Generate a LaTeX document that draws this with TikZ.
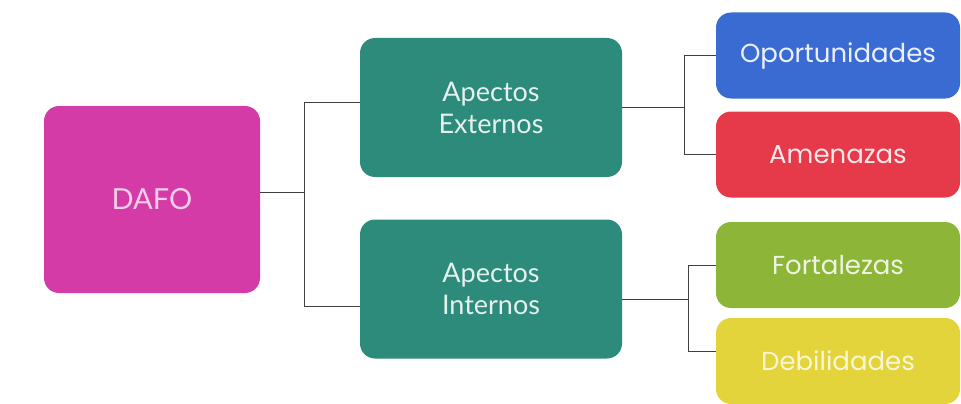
\documentclass[tikz,border=0pt]{standalone}
\usepackage{fontspec}
\setmainfont{Lato}
\newfontfamily\roundfont{Poppins}
\usepackage{tikz}
\usetikzlibrary{positioning}

\definecolor{dafopink}{HTML}{D43BA6}
\definecolor{aspteal}{HTML}{2C8B7B}
\definecolor{opblue}{HTML}{3A6BD3}
\definecolor{amred}{HTML}{E63A4B}
\definecolor{fogreen}{HTML}{8DB538}
\definecolor{deyellow}{HTML}{E2D43A}

\begin{document}
\begin{tikzpicture}[x=1pt, y=-1pt,
	box/.style={rectangle, rounded corners=15pt, draw=none, align=center, inner sep=2pt},
	aspect/.style={box, fill=aspteal, text=aspteal!12!white, minimum width=262pt, minimum height=139pt, font=\fontsize{27}{32}\selectfont},
	leaf/.style={box, minimum width=244pt, minimum height=86pt, font=\roundfont\fontsize{26}{30}\selectfont},
	link/.style={draw=black!75, line width=0.9pt}]
			\useasboundingbox (0,0) rectangle (961,404);

			\node[box, fill=dafopink, text=dafopink!25!white, minimum width=216pt, minimum height=187pt, font=\fontsize{29}{32}\selectfont] (dafo) at (152,199.5) {DAFO};

			\node[aspect] (ext) at (491,107.5) {Apectos\\Externos};
			\node[aspect] (int) at (491,289) {Apectos\\Internos};

			\node[leaf, fill=opblue, text=opblue!10!white] (op) at (838,55.5) {Oportunidades};
			\node[leaf, fill=amred, text=amred!12!white] (am) at (838,154.5) {Amenazas};
			\node[leaf, fill=fogreen, text=fogreen!15!white] (fo) at (838,265) {Fortalezas};
			\node[leaf, fill=deyellow, text=deyellow!20!white] (de) at (838,361) {Debilidades};

			% DAFO to the two aspects
			\coordinate (j0) at ([yshift=7pt]dafo.east -| 304,0);
			\draw[link] ([yshift=7pt]dafo.east) -- (j0);
			\draw[link] (j0) |- ([yshift=5pt]ext.west);
			\draw[link] (j0) |- ([yshift=-17pt]int.west);

			% aspects to their leaves
			\coordinate (j1) at (ext.east -| 684,0);
			\draw[link] (ext.east) -- (j1);
			\foreach \n in {op,am} {
				\draw[link] (j1) |- (\n.west);
			}
			\coordinate (j2) at ([yshift=-10pt]int.east -| 688,0);
			\draw[link] ([yshift=-10pt]int.east) -- (j2);
			\draw[link] (j2) |- (fo.west);
			\draw[link] (j2) |- ([yshift=10pt]de.west);
		\end{tikzpicture}
\end{document}
